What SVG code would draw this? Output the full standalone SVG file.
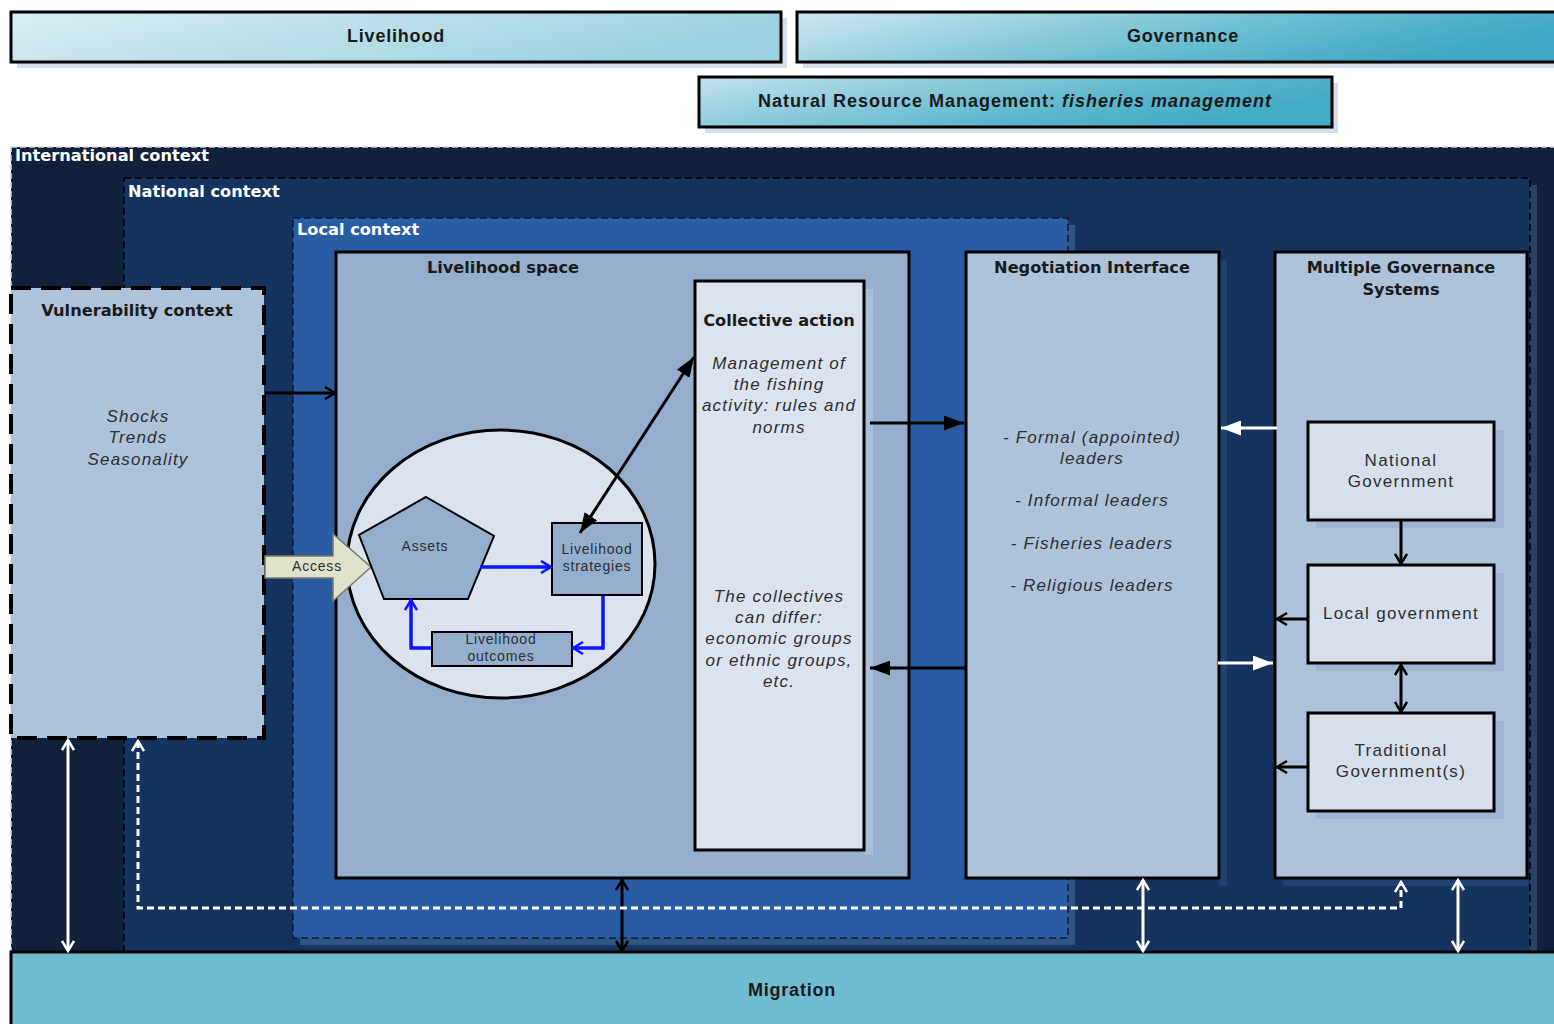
<svg xmlns="http://www.w3.org/2000/svg" width="1554" height="1024" viewBox="0 0 1554 1024">
<defs>
<linearGradient id="gLive" x1="0" y1="0" x2="1" y2="0.3">
<stop offset="0" stop-color="#dbedf4"/><stop offset="1" stop-color="#9ad2df"/>
</linearGradient>
<linearGradient id="gGov" x1="0" y1="0" x2="1" y2="0.3">
<stop offset="0" stop-color="#cfe8f1"/><stop offset="0.6" stop-color="#6fbfd3"/><stop offset="1" stop-color="#3fa8c4"/>
</linearGradient>
<linearGradient id="gNrm" x1="0" y1="0" x2="1" y2="0.4">
<stop offset="0" stop-color="#c2e2ec"/><stop offset="0.7" stop-color="#5db7cd"/><stop offset="1" stop-color="#45acc6"/>
</linearGradient>
<marker id="openB" viewBox="0 0 14 14" refX="12" refY="7" markerWidth="14" markerHeight="14" markerUnits="userSpaceOnUse" orient="auto-start-reverse">
<path d="M2,1 L12,7 L2,13" fill="none" stroke="#000" stroke-width="2.5"/>
</marker>
<marker id="openW" viewBox="0 0 14 14" refX="12" refY="7" markerWidth="14" markerHeight="14" markerUnits="userSpaceOnUse" orient="auto-start-reverse">
<path d="M2,1 L12,7 L2,13" fill="none" stroke="#fff" stroke-width="2.5"/>
</marker>
<marker id="openBl" viewBox="0 0 14 14" refX="12" refY="7" markerWidth="14" markerHeight="14" markerUnits="userSpaceOnUse" orient="auto-start-reverse">
<path d="M2,1 L12,7 L2,13" fill="none" stroke="#0a14ff" stroke-width="2.5"/>
</marker>
<marker id="fillB" viewBox="0 0 20 15" refX="20" refY="7.5" markerWidth="20" markerHeight="15" markerUnits="userSpaceOnUse" orient="auto-start-reverse">
<path d="M0,0 L20,7.5 L0,15 z" fill="#000"/>
</marker>
<marker id="fillW" viewBox="0 0 20 15" refX="20" refY="7.5" markerWidth="20" markerHeight="15" markerUnits="userSpaceOnUse" orient="auto-start-reverse">
<path d="M0,0 L20,7.5 L0,15 z" fill="#fff"/>
</marker>
<style>
.bn{stroke:#000;stroke-width:3}
.sh{fill:#d5dfeb}
.box{stroke:#000;stroke-width:3}
.bt{font-family:"Liberation Sans",Arial,sans-serif;font-weight:bold;font-size:18px;fill:#1a1a1a;text-anchor:middle;letter-spacing:0.8px}
.ctx{font-family:"DejaVu Sans",Verdana,sans-serif;font-weight:bold;font-size:16.2px;fill:#fff}
.tt{font-family:"DejaVu Sans",Verdana,sans-serif;font-weight:bold;font-size:16.2px;fill:#1a1a1a;text-anchor:middle}
.it{font-family:"Liberation Sans",Arial,sans-serif;font-style:italic;font-size:17px;fill:#2e2e2e;text-anchor:middle;letter-spacing:1.2px}
.rt{font-family:"Liberation Sans",Arial,sans-serif;font-size:17px;fill:#2e2e2e;text-anchor:middle;letter-spacing:1.3px}
.st{font-family:"Liberation Sans",Arial,sans-serif;font-size:14px;fill:#2e2e2e;text-anchor:middle;letter-spacing:0.8px}
.ab{fill:none;stroke:#000;stroke-width:3}
.aw{fill:none;stroke:#fff;stroke-width:3}
.abl{fill:none;stroke:#0a14ff;stroke-width:3.5}
</style>
</defs>
<rect width="1554" height="1024" fill="#fff"/>

<g id="banner-livelihood">
<rect class="sh" x="17" y="18" width="770" height="50"/>
<rect class="bn" x="11" y="12" width="770" height="50" fill="url(#gLive)"/>
<text class="bt" x="396" y="42">Livelihood</text>
</g>
<g id="banner-governance">
<rect class="sh" x="803" y="18" width="760" height="50"/>
<rect class="bn" x="797" y="12" width="765" height="50" fill="url(#gGov)"/>
<text class="bt" x="1183" y="42">Governance</text>
</g>
<g id="banner-nrm">
<rect class="sh" x="705" y="83" width="633" height="50"/>
<rect class="bn" x="699" y="77" width="633" height="50" fill="url(#gNrm)"/>
<text class="bt" x="1015" y="107" style="letter-spacing:1.0px">Natural Resource Management: <tspan font-style="italic">fisheries management</tspan></text>
</g>

<g id="international-context">
<rect x="11" y="147" width="1550" height="806" fill="#12213b" stroke="#d8d8d8" stroke-width="1.5" stroke-dasharray="6 3"/>
<text class="ctx" x="15" y="161">International context</text>
</g>
<g id="national-context">
<rect x="1529" y="185" width="8" height="766" fill="#2b4268"/>
<rect x="124" y="178" width="1406" height="774" fill="#14335f" stroke="#000" stroke-width="1.5" stroke-dasharray="7 4"/>
<text class="ctx" x="128" y="197">National context</text>
</g>
<g id="local-context">
<rect x="300" y="225" width="775" height="720" fill="#2f5585"/>
<rect x="293" y="218" width="775" height="720" fill="#2a5ca4" stroke="#0d1a30" stroke-width="1.5" stroke-dasharray="7 4"/>
<text class="ctx" x="297" y="235">Local context</text>
</g>

<g id="vulnerability-context">
<rect x="11" y="288" width="253" height="450" fill="#aec2da" stroke="#000" stroke-width="4" stroke-dasharray="20 10"/>
<text class="tt" x="137" y="316">Vulnerability context</text>
<text class="it" x="138" y="422">Shocks</text>
<text class="it" x="138" y="443">Trends</text>
<text class="it" x="138" y="465">Seasonality</text>
</g>

<g id="livelihood-space">
<rect class="box" x="336" y="252" width="573" height="626" fill="#95aecd"/>
<text class="tt" x="503" y="273">Livelihood space</text>
</g>

<g id="collective-action">
<rect x="864" y="289" width="9" height="566" fill="#a9bedb"/>
<rect class="box" x="695" y="281" width="169" height="569" fill="#dce3ee"/>
<text class="tt" x="779" y="326">Collective action</text>
<text class="it" x="779" y="369">Management of</text>
<text class="it" x="779" y="390">the fishing</text>
<text class="it" x="779" y="411">activity: rules and</text>
<text class="it" x="779" y="433">norms</text>
<text class="it" x="779" y="602">The collectives</text>
<text class="it" x="779" y="623">can differ:</text>
<text class="it" x="779" y="644">economic groups</text>
<text class="it" x="779" y="666">or ethnic groups,</text>
<text class="it" x="779" y="687">etc.</text>
</g>

<g id="livelihood-circle">
<ellipse cx="501" cy="564" rx="154" ry="134" fill="#dce3ee" stroke="#000" stroke-width="3"/>
</g>
<g id="access">
<polygon points="265,556 333,556 333,534 371,567 333,601 333,578 265,578" fill="#e1e2cb" stroke="#7a7a6a" stroke-width="1.5"/>
<text class="st" x="317" y="571">Access</text>
</g>
<g id="assets">
<polygon points="426,497 494,536 468,599 384,599 359,535" fill="#95aecd" stroke="#000" stroke-width="2"/>
<text class="st" x="425" y="551">Assets</text>
</g>
<g id="livelihood-strategies">
<rect x="552" y="523" width="90" height="72" fill="#95aecd" stroke="#000" stroke-width="2"/>
<text class="st" x="597" y="554">Livelihood</text>
<text class="st" x="597" y="571">strategies</text>
</g>
<g id="livelihood-outcomes">
<rect x="432" y="632" width="140" height="34" fill="#95aecd" stroke="#000" stroke-width="2"/>
<text class="st" x="501" y="644">Livelihood</text>
<text class="st" x="501" y="661">outcomes</text>
</g>

<g id="negotiation-interface">
<rect x="1219" y="260" width="8" height="626" fill="#1f4273"/>
<rect class="box" x="966" y="252" width="253" height="626" fill="#aec2da"/>
<text class="tt" x="1092" y="273">Negotiation Interface</text>
<text class="it" x="1092" y="443">- Formal (appointed)</text>
<text class="it" x="1092" y="464">leaders</text>
<text class="it" x="1092" y="506">- Informal leaders</text>
<text class="it" x="1092" y="549">- Fisheries leaders</text>
<text class="it" x="1092" y="591">- Religious leaders</text>
</g>

<g id="multiple-governance-systems">
<rect x="1283" y="878" width="245" height="8" fill="#1f4273"/>
<rect class="box" x="1275" y="252" width="252" height="626" fill="#aec2da"/>
<text class="tt" x="1401" y="273">Multiple Governance</text>
<text class="tt" x="1401" y="295">Systems</text>
</g>
<g id="national-government">
<rect x="1316" y="430" width="188" height="98" fill="#9fb5d3"/>
<rect class="box" x="1308" y="422" width="186" height="98" fill="#d6dfeb"/>
<text class="rt" x="1401" y="466">National</text>
<text class="rt" x="1401" y="487">Government</text>
</g>
<g id="local-government">
<rect x="1316" y="573" width="188" height="98" fill="#9fb5d3"/>
<rect class="box" x="1308" y="565" width="186" height="98" fill="#d6dfeb"/>
<text class="rt" x="1401" y="619">Local government</text>
</g>
<g id="traditional-government">
<rect x="1316" y="721" width="188" height="98" fill="#9fb5d3"/>
<rect class="box" x="1308" y="713" width="186" height="98" fill="#d6dfeb"/>
<text class="rt" x="1401" y="756">Traditional</text>
<text class="rt" x="1401" y="777">Government(s)</text>
</g>

<g id="migration">
<rect x="11" y="952" width="1550" height="80" fill="#6fbcd2" stroke="#000" stroke-width="3"/>
<text class="bt" x="792" y="996">Migration</text>
</g>

<g id="connectors">
<line class="ab" x1="265" y1="393" x2="335" y2="393" marker-end="url(#openB)"/>
<line class="ab" x1="694" y1="357" x2="580" y2="533" marker-start="url(#fillB)" marker-end="url(#fillB)"/>
<line class="abl" x1="480" y1="567" x2="551" y2="567" marker-end="url(#openBl)"/>
<polyline class="abl" points="603,596 603,648 573,648" marker-end="url(#openBl)"/>
<polyline class="abl" points="431,648 411,648 411,600" marker-end="url(#openBl)"/>
<line class="ab" x1="870" y1="423" x2="964" y2="423" marker-end="url(#fillB)"/>
<line class="ab" x1="966" y1="668" x2="870" y2="668" marker-end="url(#fillB)"/>
<line class="aw" x1="1277" y1="428" x2="1221" y2="428" marker-end="url(#fillW)"/>
<line class="aw" x1="1218" y1="663" x2="1273" y2="663" marker-end="url(#fillW)"/>
<line class="ab" x1="1401" y1="521" x2="1401" y2="564" marker-end="url(#openB)"/>
<line class="ab" x1="1401" y1="665" x2="1401" y2="712" marker-start="url(#openB)" marker-end="url(#openB)"/>
<line class="ab" x1="1307" y1="619" x2="1277" y2="619" marker-end="url(#openB)"/>
<line class="ab" x1="1307" y1="767" x2="1277" y2="767" marker-end="url(#openB)"/>
<line class="aw" x1="68" y1="740" x2="68" y2="951" marker-start="url(#openW)" marker-end="url(#openW)"/>
<line class="ab" x1="622" y1="880" x2="622" y2="951" marker-start="url(#openB)" marker-end="url(#openB)"/>
<line class="aw" x1="1143" y1="880" x2="1143" y2="951" marker-start="url(#openW)" marker-end="url(#openW)"/>
<line class="aw" x1="1458" y1="880" x2="1458" y2="951" marker-start="url(#openW)" marker-end="url(#openW)"/>
<path d="M138,741 L138,908 L1401,908 L1401,882" fill="none" stroke="#fff" stroke-width="3" stroke-dasharray="7 4" marker-start="url(#openW)" marker-end="url(#openW)"/>
</g>
</svg>
